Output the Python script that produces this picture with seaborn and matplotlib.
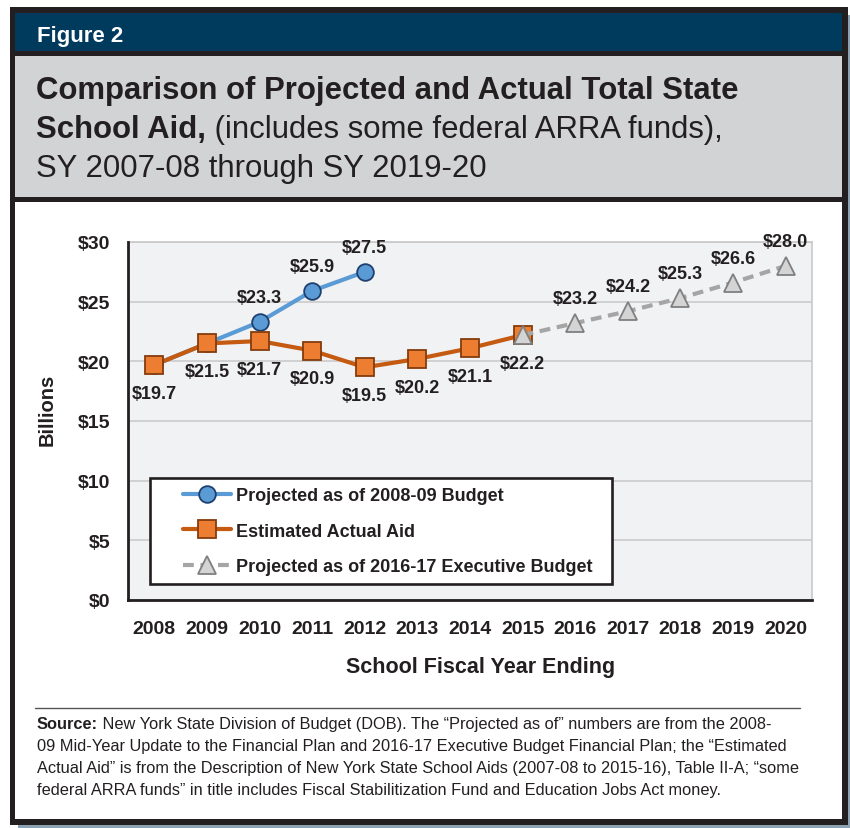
import matplotlib
matplotlib.use("Agg")
import numpy as np
import pandas as pd
import matplotlib.pyplot as plt
import seaborn as sns
from matplotlib import font_manager
from matplotlib.patches import Rectangle
from matplotlib.lines import Line2D
from matplotlib.legend_handler import HandlerLine2D
from matplotlib.ticker import FixedLocator, FixedFormatter

# ---------------- data ----------------
years = [2008, 2009, 2010, 2011, 2012, 2013, 2014, 2015, 2016, 2017, 2018, 2019, 2020]
proj_2008_years = [2008, 2009, 2010, 2011, 2012]
proj_2008_values = [19.7, 21.5, 23.3, 25.9, 27.5]
actual_years = [2008, 2009, 2010, 2011, 2012, 2013, 2014, 2015]
actual_values = [19.7, 21.5, 21.7, 20.9, 19.5, 20.2, 21.1, 22.2]
proj_2016_years = [2015, 2016, 2017, 2018, 2019, 2020]
proj_2016_values = [22.2, 23.2, 24.2, 25.3, 26.6, 28.0]
proj_2008_labelled = [2010, 2011, 2012]
proj_2016_labelled = [2016, 2017, 2018, 2019, 2020]
y_ticks = [0, 5, 10, 15, 20, 25, 30]
y_tick_labels = ["$0", "$5", "$10", "$15", "$20", "$25", "$30"]
series_names = ["Projected as of 2008-09 Budget",
                "Estimated Actual Aid",
                "Projected as of 2016-17 Executive Budget"]

# ---------------- style ----------------
sns.set_theme(style="white")
available = {f.name for f in font_manager.fontManager.ttflist}
SANS = "Liberation Sans" if "Liberation Sans" in available else "DejaVu Sans"
NARROW = "Liberation Sans Narrow" if "Liberation Sans Narrow" in available else SANS
plt.rcParams["font.family"] = [SANS, "DejaVu Sans"]

INK = "#231f20"
NAVY = "#003a5d"
TITLE_BG = "#d1d3d4"
SHADOW = "#8ca1b1"
BLUE = "#5b9bd5"
BLUE_EDGE = "#1f3f6e"
ORANGE_LINE = "#c55a11"
ORANGE_FILL = "#ed7d31"
ORANGE_EDGE = "#843c0c"
GRAY_LINE = "#a5a5a5"
GRAY_FILL = "#d4d4d4"
GRAY_EDGE = "#7f7f7f"

W, H = 850, 829
fig = plt.figure(figsize=(W / 100, H / 100), dpi=100, facecolor="white")


def fx(x):
    return x / W


def fy(y):
    return 1 - y / H


def rect(x0, y0, x1, y1, color, z):
    fig.patches.append(Rectangle((fx(x0), fy(y1)), (x1 - x0) / W, (y1 - y0) / H,
                                 transform=fig.transFigure, facecolor=color,
                                 edgecolor="none", zorder=z))


# frame
rect(18, 16, 852, 832, SHADOW, -20)
rect(10, 8, 848, 826, INK, -19)
rect(15, 14, 842, 52, NAVY, -18)
rect(15, 57, 842, 198, TITLE_BG, -18)
rect(15, 203, 842, 820, "white", -18)

renderer = fig.canvas.get_renderer()


def fit(texts, target_px):
    w = sum(t.get_window_extent(renderer).width for t in texts)
    for t in texts:
        t.set_fontsize(t.get_fontsize() * target_px / w)


# header
hdr = fig.text(fx(37), fy(42), "Figure 2", color="white", fontweight="bold",
               family=[NARROW, SANS], fontsize=16, va="baseline", ha="left")
if NARROW != SANS:
    fit([hdr], 76)

# title
t1 = fig.text(fx(36), fy(99), "Comparison of Projected and Actual Total State",
              color=INK, fontweight="bold", fontsize=22, va="baseline", ha="left")
fit([t1], 702)
tsize = t1.get_fontsize()
t2a = fig.text(fx(36), fy(138), "School Aid,", color=INK, fontweight="bold",
               fontsize=tsize, va="baseline", ha="left")
t3 = fig.text(fx(36), fy(177), "SY 2007-08 through SY 2019-20", color=INK,
              fontsize=tsize, va="baseline", ha="left")

# ---------------- axes ----------------
ax = fig.add_axes([fx(128), fy(601), (812 - 128) / W, (601 - 243) / H])
ax.set_facecolor("#f1f2f4")

sns.lineplot(x=proj_2008_years, y=proj_2008_values, ax=ax, errorbar=None,
             color=BLUE, linewidth=3.0, marker="o", markersize=12,
             markerfacecolor=BLUE, markeredgecolor=BLUE_EDGE, markeredgewidth=1.3,
             label=series_names[0], zorder=3)
sns.lineplot(x=actual_years, y=actual_values, ax=ax, errorbar=None,
             color=ORANGE_LINE, linewidth=3.0, marker="s", markersize=12.5,
             markerfacecolor=ORANGE_FILL, markeredgecolor=ORANGE_EDGE, markeredgewidth=1.3,
             label=series_names[1], zorder=4)
sns.lineplot(x=proj_2016_years, y=proj_2016_values, ax=ax, errorbar=None,
             color=GRAY_LINE, linewidth=3.0, marker="^", markersize=13,
             markerfacecolor=GRAY_FILL, markeredgecolor=GRAY_EDGE, markeredgewidth=1.3,
             linestyle=(0, (2.6, 1.6)), label=series_names[2], zorder=5)

ax.set_xlim(years[0] - 0.5, years[-1] + 0.5)
ax.set_ylim(y_ticks[0], y_ticks[-1])
ax.xaxis.set_major_locator(FixedLocator(years))
ax.xaxis.set_major_formatter(FixedFormatter([str(y) for y in years]))
ax.yaxis.set_major_locator(FixedLocator(y_ticks))
ax.yaxis.set_major_formatter(FixedFormatter([s.replace("$", r"\$") for s in y_tick_labels]))
ax.tick_params(axis="both", length=0, labelsize=14, labelcolor=INK)
ax.tick_params(axis="y", pad=13)
ax.tick_params(axis="x", pad=14.5)
for lab in ax.get_xticklabels() + ax.get_yticklabels():
    lab.set_fontweight("bold")

ax.yaxis.grid(True, color="#c8c8c8", linewidth=1.1)
ax.xaxis.grid(False)
ax.set_axisbelow(True)
for side in ["top", "right"]:
    ax.spines[side].set_color("#c8c8c8")
    ax.spines[side].set_linewidth(1.2)
for side in ["left", "bottom"]:
    ax.spines[side].set_color(INK)
    ax.spines[side].set_linewidth(2.0)
    ax.spines[side].set_zorder(6)

ax.set_xlabel("School Fiscal Year Ending", fontsize=15.5, fontweight="bold", color=INK)
ax.set_ylabel("Billions", fontsize=14.5, fontweight="bold", color=INK)
ax.xaxis.set_label_coords((481 - 128) / 684, (601 - 668) / 358)
ax.xaxis.label.set_va("center")
ax.yaxis.set_label_coords((47 - 128) / 684, (601 - 410) / 358)
ax.yaxis.label.set_va("center")

# data labels
lab_kw = dict(textcoords="offset points", ha="center", va="center_baseline",
              fontsize=13, fontweight="bold", color=INK, zorder=7)
for yr, v in zip(proj_2008_years, proj_2008_values):
    if yr in proj_2008_labelled:
        ax.annotate(f"\\${v:.1f}", (yr, v), xytext=(0, 19), **lab_kw)
for yr, v in zip(actual_years, actual_values):
    ax.annotate(f"\\${v:.1f}", (yr, v), xytext=(0, -19), **lab_kw)
for yr, v in zip(proj_2016_years, proj_2016_values):
    if yr in proj_2016_labelled:
        ax.annotate(f"\\${v:.1f}", (yr, v), xytext=(0, 19), **lab_kw)


# legend
class OffsetHandler(HandlerLine2D):
    def __init__(self, shift, **kw):
        super().__init__(**kw)
        self.shift = shift

    def get_xdata(self, legend, xdescent, ydescent, width, height, fontsize):
        return super().get_xdata(legend, xdescent - self.shift, ydescent,
                                 width - self.shift, height, fontsize)


handles, labels = ax.get_legend_handles_labels()
hmap = {h: OffsetHandler(17.6) for h in handles}
leg = ax.legend(handles, labels, handler_map=hmap, numpoints=1,
                loc="upper left",
                bbox_to_anchor=((150 - 128) / 684, (601 - 585) / 358, 462 / 684, 106 / 358),
                mode="expand", borderaxespad=0, borderpad=0.5,
                handlelength=4.0, handletextpad=0.28, labelspacing=1.03,
                fancybox=False, framealpha=1, facecolor="white", edgecolor=INK,
                prop={"weight": "bold", "size": 13})
leg.get_frame().set_linewidth(1.9)
leg.set_zorder(8)
for t in leg.get_texts():
    t.set_color(INK)

# ---------------- source ----------------
fig.add_artist(Line2D([fx(35), fx(800)], [fy(709), fy(709)], transform=fig.transFigure,
                      color="#555555", linewidth=1.0))
src_lines = [
    ("Source:", " New York State Division of Budget (DOB). The \u201cProjected as of\u201d numbers are from the 2008-"),
    ("", "09 Mid-Year Update to the Financial Plan and 2016-17 Executive Budget Financial Plan; the \u201cEstimated"),
    ("", "Actual Aid\u201d is from the Description of New York State School Aids (2007-08 to 2015-16), Table II-A; \u201csome"),
    ("", "federal ARRA funds\u201d in title includes Fiscal Stabilitization Fund and Education Jobs Act money."),
]
src_base = [729, 751, 773, 795]
src_fam = [NARROW, SANS]
sa = fig.text(fx(37), fy(src_base[0]), src_lines[0][0], fontweight="bold", family=src_fam,
              fontsize=10.5, color=INK, va="baseline", ha="left")
sb = fig.text(fx(37), fy(src_base[0]), src_lines[0][1], family=src_fam, fontsize=10.5,
              color=INK, va="baseline", ha="left")
fit([sa, sb], 740)
ssize = sa.get_fontsize()
sb.remove()
ax.annotate(src_lines[0][1], xy=(1, 0), xycoords=sa, va="bottom", ha="left",
            family=src_fam, fontsize=ssize, color=INK, annotation_clip=False)
for (b, r), yb in zip(src_lines[1:], src_base[1:]):
    fig.text(fx(37), fy(yb), r, family=src_fam, fontsize=ssize, color=INK,
             va="baseline", ha="left")

# title line 2: regular part after the bold part
ax.annotate(" (includes some federal ARRA funds),", xy=(1, 0), xycoords=t2a,
            va="bottom", ha="left", fontsize=tsize, color=INK, annotation_clip=False)

fig.savefig("out.png", dpi=100)
